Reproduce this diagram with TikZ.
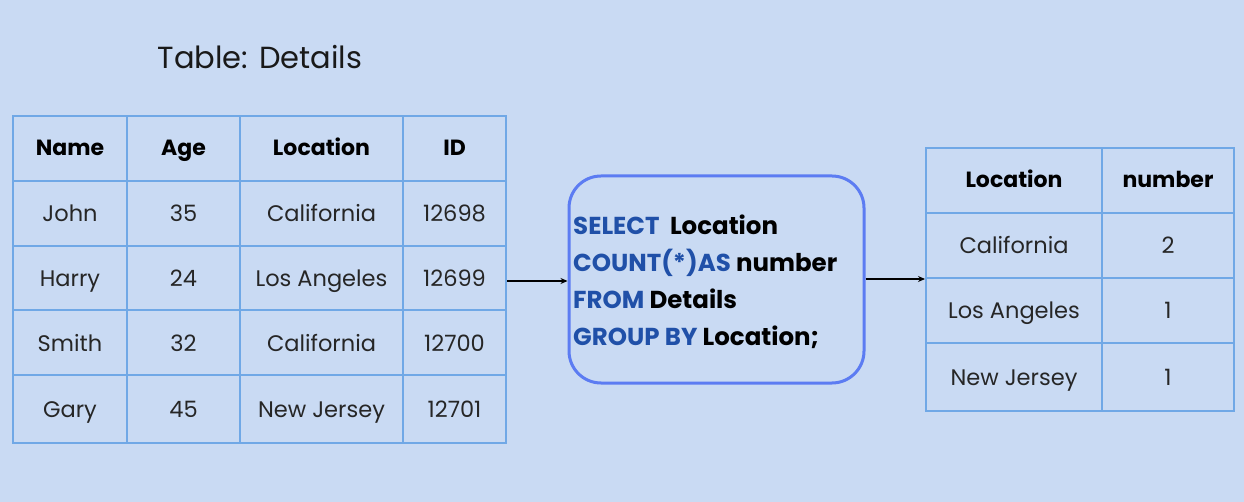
\documentclass[tikz,border=0pt]{standalone}
\usepackage{fontspec}
\setmainfont{Poppins}
\usetikzlibrary{arrows.meta}
\definecolor{bg}{HTML}{C9DAF3}
\definecolor{grid}{HTML}{70A8E6}
\definecolor{boxline}{HTML}{5C7CF2}
\definecolor{kw}{HTML}{2050A8}
\tikzset{
  cell/.style={draw=grid, line width=2pt, minimum width=#1, minimum height=65pt, inner sep=0pt},
  txt/.style={font=\fontsize{22.5}{26}\selectfont, text=black!85, text height=16pt, text depth=5pt, inner sep=0pt, yshift=-3pt},
  head/.style={font=\fontsize{22}{26}\selectfont\bfseries, text=black, text height=16pt, text depth=5pt, inner sep=0pt, yshift=-2pt},
  conn/.style={-{Stealth[length=7pt,width=6pt]}, line width=1.4pt, black},
}
\begin{document}
\begin{tikzpicture}[x=1pt,y=-1pt]
\fill[bg] (0,0) rectangle (1244,502);
\useasboundingbox (0,0) rectangle (1244,502);
\node[font=\fontsize{30.5}{34}\selectfont, text=black!90] (title) at (260,57) {Table: Details};
% left table
\foreach \cx/\w [count=\c] in {70/114,183.5/113,321.5/163,454.5/103}{
  \foreach \y/\h [count=\r] in {148.5/65,213.5/65,278/64,342.5/65,409/68}{
    \node[cell=\w pt, minimum height=\h pt] (L\r\c) at (\cx,\y) {};
  }
}
\node[head] at (L11) {Name};
\node[head] at (L12) {Age};
\node[head] at (L13) {Location};
\node[head] at (L14) {ID};
\foreach \a/\b/\cc/\d [count=\r from 2] in {John/35/California/12698, Harry/24/Los Angeles/12699, Smith/32/California/12700, Gary/45/New Jersey/12701}{
  \node[txt] at (L\r1) {\a};
  \node[txt] at (L\r2) {\b};
  \node[txt] at (L\r3) {\cc};
  \node[txt] at (L\r4) {\d};
}
% query box
\node[draw=boxline, line width=3pt, rounded corners=32pt, minimum width=295pt, minimum height=207pt] (box) at (716.5,279.5) {};
\node[anchor=west, align=left, font=\fontsize{24.5}{37}\selectfont\bfseries, inner sep=0pt] (sql) at (573,282) {%
\textcolor{kw}{SELECT}\ \ Location\\
\textcolor{kw}{COUNT(*)AS} number\\
\textcolor{kw}{FROM} Details\\
\textcolor{kw}{GROUP BY} Location;};
% right table
\foreach \cx/\w [count=\c] in {1014/176,1168/132}{
  \foreach \y/\h [count=\r] in {180.5/65,245.5/65,310.5/65,377/68}{
    \node[cell=\w pt, minimum height=\h pt] (R\r\c) at (\cx,\y) {};
  }
}
\node[head] at (R11) {Location};
\node[head] at (R12) {number};
\foreach \a/\b [count=\r from 2] in {California/2, Los Angeles/1, New Jersey/1}{
  \node[txt] at (R\r1) {\a};
  \node[txt] at (R\r2) {\b};
}
% connectors
\coordinate (a1) at (L34.east |- 0,281);
\coordinate (a2) at (R21.south west);
\draw[conn] (a1) -- (box.west |- a1);
\draw[conn] (box.east |- a2) -- (a2);
\end{tikzpicture}
\end{document}
